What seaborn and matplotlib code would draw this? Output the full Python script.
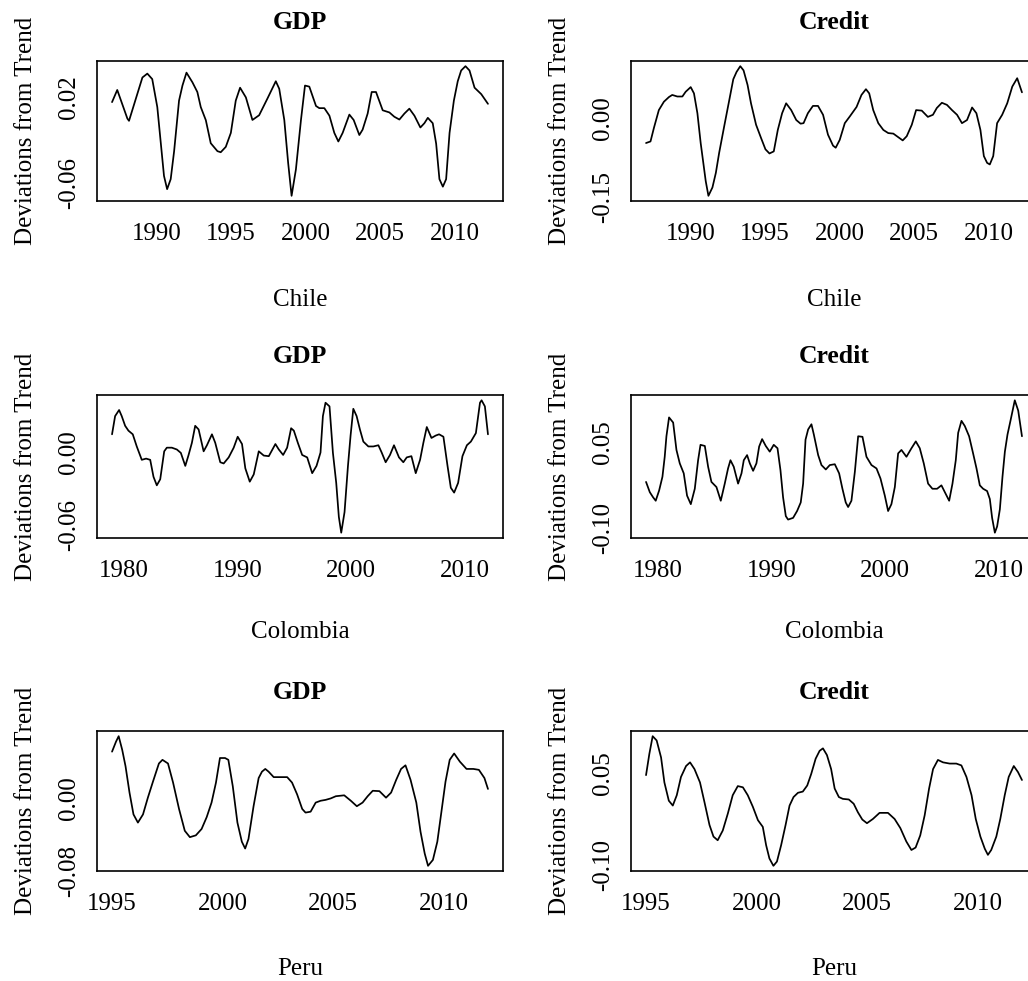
import matplotlib
matplotlib.use("Agg")
import matplotlib.pyplot as plt
import pandas as pd
import seaborn as sns

# ---- Chile: GDP cycle ----
chile_gdp_t = [1987.0, 1987.35, 1988.03, 1988.14, 1989.04, 1989.37, 1989.7, 1990.04, 1990.49, 1990.7,
               1990.94, 1991.17, 1991.5, 1991.73, 1992.0, 1992.4, 1992.73, 1992.96, 1993.3, 1993.63,
               1994.08, 1994.3, 1994.64, 1994.98, 1995.31, 1995.6, 1995.99, 1996.43, 1996.88, 1997.44,
               1998.0, 1998.23, 1998.57, 1998.83, 1999.06, 1999.35, 1999.69, 1999.96, 2000.25, 2000.7,
               2000.92, 2001.26, 2001.6, 2001.93, 2002.2, 2002.49, 2002.94, 2003.23, 2003.61, 2003.83,
               2004.17, 2004.44, 2004.73, 2005.18, 2005.63, 2005.96, 2006.3, 2006.64, 2006.97, 2007.31,
               2007.71, 2007.98, 2008.21, 2008.54, 2008.77, 2008.99, 2009.22, 2009.44, 2009.67, 2009.96,
               2010.22, 2010.45, 2010.74, 2011.01, 2011.35, 2011.8, 2012.25]
chile_gdp_v = [0.0156, 0.0269, 0.0003, -0.0018, 0.0385, 0.0421, 0.037, 0.011, -0.053, -0.0653,
               -0.056, -0.030, 0.017, 0.031, 0.043, 0.034, 0.025, 0.011, -0.0012, -0.0226,
               -0.030, -0.031, -0.026, -0.013, 0.017, 0.029, 0.020, -0.001, 0.0034, 0.019,
               0.035, 0.028, -0.001, -0.041, -0.0715, -0.047, -0.001, 0.031, 0.030, 0.012,
               0.010, 0.010, 0.003, -0.013, -0.021, -0.013, 0.004, -0.001, -0.015, -0.010,
               0.005, 0.025, 0.025, 0.008, 0.006, 0.002, -0.0006, 0.005, 0.0095, 0.003,
               -0.008, -0.004, 0.001, -0.004, -0.023, -0.056, -0.063, -0.056, -0.013, 0.017,
               0.035, 0.045, 0.049, 0.045, 0.029, 0.023, 0.014]

# ---- Chile: credit cycle ----
chile_credit_t = [1987.0, 1987.3, 1987.53, 1987.86, 1988.2, 1988.54, 1988.76, 1989.1, 1989.44, 1989.66,
                  1990.0, 1990.22, 1990.45, 1990.67, 1991.01, 1991.19, 1991.46, 1991.69, 1991.91, 1992.25,
                  1992.59, 1992.86, 1993.08, 1993.33, 1993.55, 1993.82, 1994.05, 1994.39, 1994.72, 1995.02,
                  1995.29, 1995.58, 1995.85, 1996.14, 1996.41, 1996.75, 1997.09, 1997.38, 1997.58, 1997.87,
                  1998.21, 1998.55, 1998.89, 1999.22, 1999.56, 1999.74, 2000.01, 2000.35, 2000.69, 2001.14,
                  2001.47, 2001.77, 2001.99, 2002.26, 2002.6, 2002.94, 2003.27, 2003.61, 2003.9, 2004.24,
                  2004.51, 2004.85, 2005.14, 2005.52, 2005.93, 2006.27, 2006.53, 2006.87, 2007.21, 2007.55,
                  2007.89, 2008.22, 2008.56, 2008.9, 2009.19, 2009.46, 2009.69, 2009.91, 2010.09, 2010.32,
                  2010.58, 2010.92, 2011.26, 2011.6, 2011.93, 2012.25]
chile_credit_v = [-0.047, -0.044, -0.018, 0.016, 0.032, 0.041, 0.045, 0.042, 0.042, 0.051,
                  0.060, 0.048, 0.010, -0.047, -0.120, -0.148, -0.132, -0.104, -0.066, -0.015,
                  0.035, 0.075, 0.089, 0.100, 0.092, 0.064, 0.029, -0.012, -0.037, -0.059,
                  -0.067, -0.063, -0.022, 0.010, 0.029, 0.016, -0.003, -0.010, -0.009, 0.010,
                  0.024, 0.024, 0.007, -0.031, -0.052, -0.056, -0.041, -0.009, 0.004, 0.022,
                  0.045, 0.056, 0.048, 0.016, -0.009, -0.022, -0.028, -0.029, -0.035, -0.042,
                  -0.034, -0.012, 0.016, 0.015, 0.003, 0.007, 0.020, 0.030, 0.026, 0.016,
                  0.007, -0.009, -0.003, 0.021, 0.010, -0.022, -0.072, -0.085, -0.088, -0.072,
                  -0.009, 0.007, 0.029, 0.061, 0.077, 0.050]

# ---- Colombia: GDP cycle ----
colombia_gdp_t = [1979.0, 1979.27, 1979.62, 1979.85, 1980.15, 1980.44, 1980.82, 1981.17, 1981.61, 1981.99,
                  1982.35, 1982.64, 1982.93, 1983.23, 1983.58, 1983.81, 1984.25, 1984.69, 1985.04, 1985.43,
                  1985.72, 1986.01, 1986.3, 1986.6, 1987.04, 1987.33, 1987.77, 1988.06, 1988.5, 1988.8,
                  1989.24, 1989.68, 1990.03, 1990.41, 1990.7, 1991.09, 1991.44, 1991.88, 1992.32, 1992.76,
                  1993.34, 1993.64, 1994.02, 1994.37, 1994.72, 1994.96, 1995.31, 1995.69, 1996.13, 1996.57,
                  1996.95, 1997.3, 1997.51, 1997.74, 1998.09, 1998.39, 1998.68, 1998.91, 1999.12, 1999.41,
                  1999.71, 1999.94, 2000.18, 2000.47, 2000.76, 2001.06, 2001.5, 2001.94, 2002.38, 2002.67,
                  2003.02, 2003.4, 2003.75, 2004.19, 2004.57, 2004.87, 2005.28, 2005.66, 2006.04, 2006.33,
                  2006.63, 2007.04, 2007.42, 2007.71, 2008.09, 2008.45, 2008.74, 2009.03, 2009.38, 2009.76,
                  2010.15, 2010.5, 2010.94, 2011.3, 2011.44, 2011.73, 2012.0]
colombia_gdp_v = [0.015, 0.030, 0.035, 0.030, 0.022, 0.018, 0.015, 0.005, -0.006, -0.005,
                  -0.006, -0.020, -0.027, -0.022, 0.001, 0.004, 0.004, 0.0025, -0.0003, -0.011,
                  -0.002, 0.008, 0.022, 0.019, 0.001, 0.006, 0.015, 0.008, -0.008, -0.009,
                  -0.004, 0.004, 0.013, 0.007, -0.013, -0.024, -0.018, 0.001, -0.0025, -0.003,
                  0.007, 0.0025, -0.002, 0.004, 0.020, 0.018, 0.008, -0.002, -0.004, -0.017,
                  -0.011, 0.000, 0.030, 0.041, 0.038, -0.0003, -0.025, -0.053, -0.066, -0.049,
                  -0.011, 0.014, 0.036, 0.030, 0.019, 0.009, 0.005, 0.005, 0.006, 0.000,
                  -0.008, -0.002, 0.006, -0.004, -0.008, -0.004, -0.003, -0.017, -0.006, 0.008,
                  0.021, 0.012, 0.014, 0.015, 0.013, -0.011, -0.029, -0.033, -0.025, -0.003,
                  0.006, 0.009, 0.016, 0.041, 0.043, 0.038, 0.015]

# ---- Colombia: credit cycle ----
colombia_credit_t = [1979.0, 1979.33, 1979.62, 1979.85, 1980.15, 1980.44, 1980.64, 1980.79, 1981.02, 1981.38,
                     1981.67, 1981.96, 1982.31, 1982.6, 1982.93, 1983.28, 1983.57, 1983.78, 1984.16, 1984.45,
                     1984.74, 1985.18, 1985.56, 1985.91, 1986.2, 1986.41, 1986.7, 1987.08, 1987.38, 1987.58,
                     1987.87, 1988.11, 1988.4, 1988.69, 1988.93, 1989.19, 1989.51, 1989.86, 1990.21, 1990.54,
                     1990.8, 1991.03, 1991.27, 1991.47, 1991.91, 1992.26, 1992.58, 1992.79, 1993.0, 1993.23,
                     1993.52, 1993.73, 1994.11, 1994.4, 1994.78, 1995.13, 1995.57, 1995.95, 1996.24, 1996.53,
                     1996.74, 1997.03, 1997.33, 1997.62, 1998.0, 1998.35, 1998.79, 1999.23, 1999.58, 1999.96,
                     2000.25, 2000.54, 2000.84, 2001.13, 2001.42, 2001.86, 2002.3, 2002.68, 2003.03, 2003.38,
                     2003.76, 2004.14, 2004.55, 2004.93, 2005.23, 2005.61, 2005.9, 2006.19, 2006.4, 2006.69,
                     2006.98, 2007.36, 2007.71, 2008.01, 2008.3, 2008.59, 2008.94, 2009.18, 2009.38, 2009.62,
                     2009.82, 2010.06, 2010.29, 2010.5, 2010.73, 2010.99, 2011.37, 2011.67, 2012.0]
colombia_credit_v = [-0.020, -0.038, -0.047, -0.053, -0.035, -0.011, 0.024, 0.060, 0.093, 0.084,
                     0.036, 0.0125, -0.005, -0.044, -0.059, -0.032, 0.018, 0.045, 0.043, 0.0065,
                     -0.020, -0.029, -0.053, -0.023, 0.0036, 0.018, 0.0065, -0.023, -0.005, 0.018,
                     0.027, 0.0125, -0.0006, 0.0125, 0.042, 0.055, 0.043, 0.033, 0.045, 0.039,
                     0.0006, -0.047, -0.080, -0.086, -0.083, -0.071, -0.056, -0.023, 0.054, 0.072,
                     0.081, 0.063, 0.027, 0.0095, 0.0018, 0.0095, 0.011, -0.005, -0.032, -0.056,
                     -0.064, -0.053, -0.0024, 0.060, 0.059, 0.024, 0.0095, 0.0036, -0.014, -0.044,
                     -0.071, -0.059, -0.029, 0.030, 0.036, 0.024, 0.039, 0.051, 0.039, 0.0125,
                     -0.023, -0.032, -0.032, -0.026, -0.038, -0.053, -0.023, 0.018, 0.066, 0.087,
                     0.078, 0.060, 0.030, 0.0036, -0.026, -0.032, -0.036, -0.050, -0.083, -0.109,
                     -0.098, -0.068, -0.011, 0.033, 0.063, 0.087, 0.123, 0.105, 0.060]

# ---- Peru: GDP cycle ----
peru_gdp_t = [1995.0, 1995.18, 1995.3, 1995.46, 1995.61, 1995.79, 1995.97, 1996.17, 1996.4, 1996.62,
              1996.85, 1997.12, 1997.28, 1997.53, 1997.76, 1998.03, 1998.29, 1998.52, 1998.79, 1999.05,
              1999.28, 1999.5, 1999.7, 1999.88, 2000.11, 2000.26, 2000.46, 2000.67, 2000.87, 2001.02,
              2001.17, 2001.4, 2001.63, 2001.78, 2001.93, 2002.08, 2002.31, 2002.61, 2002.92, 2003.14,
              2003.37, 2003.6, 2003.75, 2003.98, 2004.21, 2004.43, 2004.66, 2004.89, 2005.12, 2005.5,
              2005.8, 2006.07, 2006.33, 2006.56, 2006.79, 2007.09, 2007.39, 2007.62, 2007.85, 2008.07,
              2008.27, 2008.5, 2008.76, 2008.95, 2009.14, 2009.29, 2009.51, 2009.71, 2009.89, 2010.08,
              2010.27, 2010.47, 2010.73, 2011.03, 2011.34, 2011.59, 2011.84, 2012.0]
peru_gdp_v = [0.051, 0.062, 0.068, 0.053, 0.035, 0.006, -0.018, -0.027, -0.018, 0.0004,
              0.018, 0.038, 0.042, 0.038, 0.017, -0.012, -0.036, -0.043, -0.041, -0.034,
              -0.021, -0.005, 0.017, 0.044, 0.044, 0.042, 0.013, -0.027, -0.048, -0.0555,
              -0.045, -0.009, 0.022, 0.029, 0.032, 0.029, 0.023, 0.023, 0.023, 0.017,
              0.004, -0.012, -0.016, -0.015, -0.005, -0.003, -0.002, -0.0004, 0.002, 0.003,
              -0.003, -0.009, -0.005, 0.002, 0.008, 0.0076, 0.0004, 0.006, 0.020, 0.032,
              0.036, 0.020, -0.005, -0.037, -0.061, -0.0745, -0.068, -0.048, -0.016, 0.018,
              0.042, 0.049, 0.040, 0.032, 0.032, 0.031, 0.022, 0.010]

# ---- Peru: credit cycle ----
peru_credit_t = [1995.0, 1995.15, 1995.3, 1995.48, 1995.68, 1995.83, 1996.03, 1996.21, 1996.39, 1996.58,
                 1996.81, 1996.99, 1997.19, 1997.44, 1997.64, 1997.87, 1998.05, 1998.24, 1998.47, 1998.7,
                 1998.92, 1999.15, 1999.38, 1999.6, 1999.83, 2000.06, 2000.28, 2000.43, 2000.58, 2000.76,
                 2000.92, 2001.11, 2001.31, 2001.49, 2001.67, 2001.87, 2002.09, 2002.29, 2002.47, 2002.67,
                 2002.85, 2003.0, 2003.18, 2003.37, 2003.53, 2003.72, 2003.9, 2004.17, 2004.39, 2004.58,
                 2004.78, 2004.99, 2005.26, 2005.56, 2005.94, 2006.24, 2006.5, 2006.77, 2007.0, 2007.19,
                 2007.4, 2007.6, 2007.8, 2007.98, 2008.2, 2008.43, 2008.73, 2009.03, 2009.26, 2009.49,
                 2009.72, 2009.91, 2010.12, 2010.32, 2010.46, 2010.61, 2010.84, 2011.02, 2011.22, 2011.4,
                 2011.63, 2011.82, 2012.0]
peru_credit_v = [0.047, 0.082, 0.111, 0.104, 0.076, 0.035, 0.005, -0.003, 0.014, 0.044,
                 0.062, 0.068, 0.057, 0.035, 0.003, -0.035, -0.054, -0.060, -0.044, -0.016,
                 0.014, 0.029, 0.027, 0.014, -0.005, -0.027, -0.038, -0.068, -0.090, -0.102,
                 -0.095, -0.068, -0.035, -0.003, 0.011, 0.018, 0.020, 0.030, 0.049, 0.074,
                 0.087, 0.091, 0.080, 0.057, 0.025, 0.011, 0.008, 0.007, 0.000, -0.014,
                 -0.026, -0.032, -0.025, -0.015, -0.015, -0.025, -0.040, -0.062, -0.076, -0.072,
                 -0.052, -0.019, 0.025, 0.057, 0.072, 0.068, 0.066, 0.066, 0.063, 0.044,
                 0.014, -0.025, -0.054, -0.074, -0.084, -0.076, -0.054, -0.025, 0.014, 0.044,
                 0.062, 0.052, 0.039]

# ---- axis ticks and the labels printed on them ----
chile_xticks = [1990, 1995, 2000, 2005, 2010]
colombia_xticks = [1980, 1990, 2000, 2010]
peru_xticks = [1995, 2000, 2005, 2010]

chile_gdp_yticks = [-0.06, -0.04, -0.02, 0.00, 0.02, 0.04]
chile_gdp_ylabels = ["-0.06", "", "", "", "0.02", ""]
chile_credit_yticks = [-0.15, -0.10, -0.05, 0.00, 0.05, 0.10]
chile_credit_ylabels = ["-0.15", "", "", "0.00", "", ""]
colombia_gdp_yticks = [-0.06, -0.04, -0.02, 0.00, 0.02, 0.04]
colombia_gdp_ylabels = ["-0.06", "", "", "0.00", "", ""]
colombia_credit_yticks = [-0.10, -0.05, 0.00, 0.05, 0.10]
colombia_credit_ylabels = ["-0.10", "", "", "0.05", ""]
peru_gdp_yticks = [-0.08, -0.06, -0.04, -0.02, 0.00, 0.02, 0.04, 0.06]
peru_gdp_ylabels = ["-0.08", "", "", "", "0.00", "", "", ""]
peru_credit_yticks = [-0.10, -0.05, 0.00, 0.05, 0.10]
peru_credit_ylabels = ["-0.10", "", "", "0.05", ""]

series_titles = ["GDP", "Credit"]
countries = ["Chile", "Colombia", "Peru"]
ylabel_text = "Deviations from Trend"

panels = [
    # (row, col, t, v, xticks, yticks, ylabels)
    (0, 0, chile_gdp_t, chile_gdp_v, chile_xticks, chile_gdp_yticks, chile_gdp_ylabels),
    (0, 1, chile_credit_t, chile_credit_v, chile_xticks, chile_credit_yticks, chile_credit_ylabels),
    (1, 0, colombia_gdp_t, colombia_gdp_v, colombia_xticks, colombia_gdp_yticks, colombia_gdp_ylabels),
    (1, 1, colombia_credit_t, colombia_credit_v, colombia_xticks, colombia_credit_yticks, colombia_credit_ylabels),
    (2, 0, peru_gdp_t, peru_gdp_v, peru_xticks, peru_gdp_yticks, peru_gdp_ylabels),
    (2, 1, peru_credit_t, peru_credit_v, peru_xticks, peru_credit_yticks, peru_credit_ylabels),
]

sns.set_style("white")
plt.rcParams["font.family"] = ["Liberation Serif", "DejaVu Serif"]
plt.rcParams["font.size"] = 18
plt.rcParams["text.color"] = "black"
plt.rcParams["axes.labelcolor"] = "black"
plt.rcParams["xtick.color"] = "black"
plt.rcParams["ytick.color"] = "black"

W_PX, H_PX = 1028, 981
fig = plt.figure(figsize=(W_PX / 100, H_PX / 100), dpi=100)

# panel frames in pixels: left edge per column, (top, bottom) per row;
# the right-hand column runs a little past the canvas edge
col_left = [97, 631]
panel_w = 406
row_span = [(61, 201), (395, 538), (731, 871)]
xlabel_drop = [99, 94, 98]  # distance of the country name below each frame, px


def r_limits(vals):
    lo, hi = min(vals), max(vals)
    pad = 0.04 * (hi - lo)
    return lo - pad, hi + pad


for row, col, t, v, xt, yt, yl in panels:
    top, bot = row_span[row]
    left = col_left[col]
    ax = fig.add_axes([left / W_PX, 1 - bot / H_PX, panel_w / W_PX, (bot - top) / H_PX])
    df = pd.DataFrame({"year": t, "dev": v})
    sns.lineplot(data=df, x="year", y="dev", ax=ax, color="black", linewidth=1.25,
                 sort=False, estimator=None, errorbar=None)
    ax.set_xlim(*r_limits(t))
    ax.set_ylim(*r_limits(v))
    ax.set_xticks(xt)
    ax.set_xticklabels([str(x) for x in xt])
    ax.set_yticks(yt)
    ax.set_yticklabels(yl)
    for s in ax.spines.values():
        s.set_visible(True)
        s.set_color("black")
        s.set_linewidth(1.2)
    ax.tick_params(axis="x", direction="out", length=8.5, width=1.1, pad=7, labelsize=18,
                   color="black", labelcolor="black")
    ax.tick_params(axis="y", direction="out", length=6.5, width=1.1, pad=6, labelsize=18,
                   labelrotation=90, color="black", labelcolor="black")
    for lab in ax.get_yticklabels():
        lab.set_verticalalignment("center")
    ax.set_title(series_titles[col], fontweight="bold", fontsize=18.5, pad=23, color="black")
    ax.set_xlabel(countries[row], fontsize=18, va="center", color="black")
    ax.xaxis.set_label_coords(0.5, -xlabel_drop[row] / (bot - top))
    ax.set_ylabel(ylabel_text, fontsize=18, va="center", color="black")
    ax.yaxis.set_label_coords(-71.0 / panel_w, 0.5)

fig.savefig("out.png", dpi=100)
